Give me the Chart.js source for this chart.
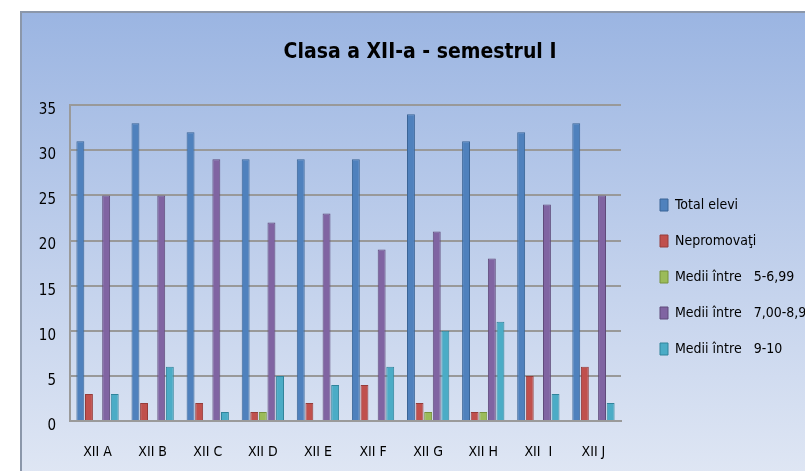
<!DOCTYPE html>
<html>
<head>
<meta charset="utf-8">
<script src="https://cdn.jsdelivr.net/npm/chart.js@4"></script>
<style>
  body { margin: 0; background: #fff; overflow: hidden; }
  #box {
    position: absolute; left: 20px; top: 11px; width: 800px; height: 470px;
    border-left: 2px solid #8b97aa; border-top: 2px solid #8b97aa;
    background: linear-gradient(to bottom, #9bb5e2 0%, #c2d1ec 55%, #e0e7f4 100%);
    overflow: hidden;
  }
  #wrap { position: absolute; left: 0; top: 0; width: 796px; height: 458px; }
</style>
</head>
<body>
<div id="box"><div id="wrap"><canvas id="chart" width="796" height="458"></canvas></div></div>
<script>
const classes = ['XII A', 'XII B', 'XII C', 'XII D', 'XII E', 'XII F', 'XII G', 'XII H', 'XII  I', 'XII J'];
const totalElevi = [31, 33, 32, 29, 29, 29, 34, 31, 32, 33];
const nepromovati = [3, 2, 2, 1, 2, 4, 2, 1, 5, 6];
const medii5 = [0, 0, 0, 1, 0, 0, 1, 1, 0, 0];
const medii7 = [25, 25, 29, 22, 23, 19, 21, 18, 24, 25];
const medii9 = [3, 6, 1, 5, 4, 6, 10, 11, 3, 2];
const seriesNames = ['Total elevi', 'Nepromovaţi', 'Medii între   5-6,99', 'Medii între   7,00-8,99', 'Medii între   9-10'];
const yTicks = [0, 5, 10, 15, 20, 25, 30, 35];

const fontName = "'Liberation Sans Narrow', 'DejaVu Sans Condensed', 'Open Sans', sans-serif";

function makeSet(label, data, fill, border) {
    return {
        label: label,
        data: data,
        backgroundColor: fill,
        borderColor: border,
        borderWidth: 1,
        barPercentage: 0.92,
        categoryPercentage: 0.78
    };
}

// keep the legend column close to the plot, like the original (its text runs off the right edge)
const legendShift = {
    id: 'legendShift',
    afterLayout(chart) {
        const lg = chart.legend;
        lg.left = chart.chartArea.right + 17;
        lg.right = chart.width + 100;
        lg.width = lg.right - lg.left;
    }
};

new Chart(document.getElementById('chart'), {
    type: 'bar',
    data: {
        labels: classes,
        datasets: [
            makeSet(seriesNames[0], totalElevi, '#4f81bd', '#3a6496'),
            makeSet(seriesNames[1], nepromovati, '#c0504d', '#963c3a'),
            makeSet(seriesNames[2], medii5, '#9bbb59', '#76923c'),
            makeSet(seriesNames[3], medii7, '#8064a2', '#5f4a7a'),
            makeSet(seriesNames[4], medii9, '#4bacc6', '#31849b')
        ]
    },
    plugins: [legendShift],
    options: {
        responsive: false,
        animation: false,
        layout: { padding: 0 },
        plugins: {
            title: {
                display: true,
                text: 'Clasa a XII-a - semestrul I',
                color: '#000',
                font: { family: fontName, size: 21, weight: 'bold' },
                padding: { top: 27, bottom: 40 }
            },
            legend: {
                position: 'right',
                maxWidth: 130,
                title: {
                    display: true,
                    text: ' ',
                    font: { size: 10 },
                    padding: 29
                },
                labels: {
                    color: '#000',
                    font: { family: fontName, size: 14 },
                    boxWidth: 8,
                    boxHeight: 12,
                    padding: 22
                }
            },
            tooltip: { enabled: false }
        },
        scales: {
            x: {
                grid: { display: false },
                border: { color: '#9a9a9a', width: 2 },
                ticks: {
                    color: '#000',
                    font: { family: fontName, size: 14 },
                    padding: 15,
                    maxRotation: 0
                },
                afterFit: s => { s.height = 50; }
            },
            y: {
                min: 0,
                max: 35,
                afterBuildTicks: s => { s.ticks = yTicks.map(v => ({ value: v })); },
                grid: { color: '#999', lineWidth: 2, drawTicks: false },
                border: { color: '#9a9a9a', width: 2 },
                ticks: {
                    color: '#000',
                    font: { family: fontName, size: 15 },
                    padding: 14,
                    labelOffset: 5
                },
                afterFit: s => { s.width = 48; }
            },
            gap: {
                position: 'right',
                display: true,
                grid: { display: false },
                border: { display: false },
                ticks: { display: false },
                afterFit: s => { s.width = 67; }
            }
        }
    }
});
</script>
</body>
</html>
